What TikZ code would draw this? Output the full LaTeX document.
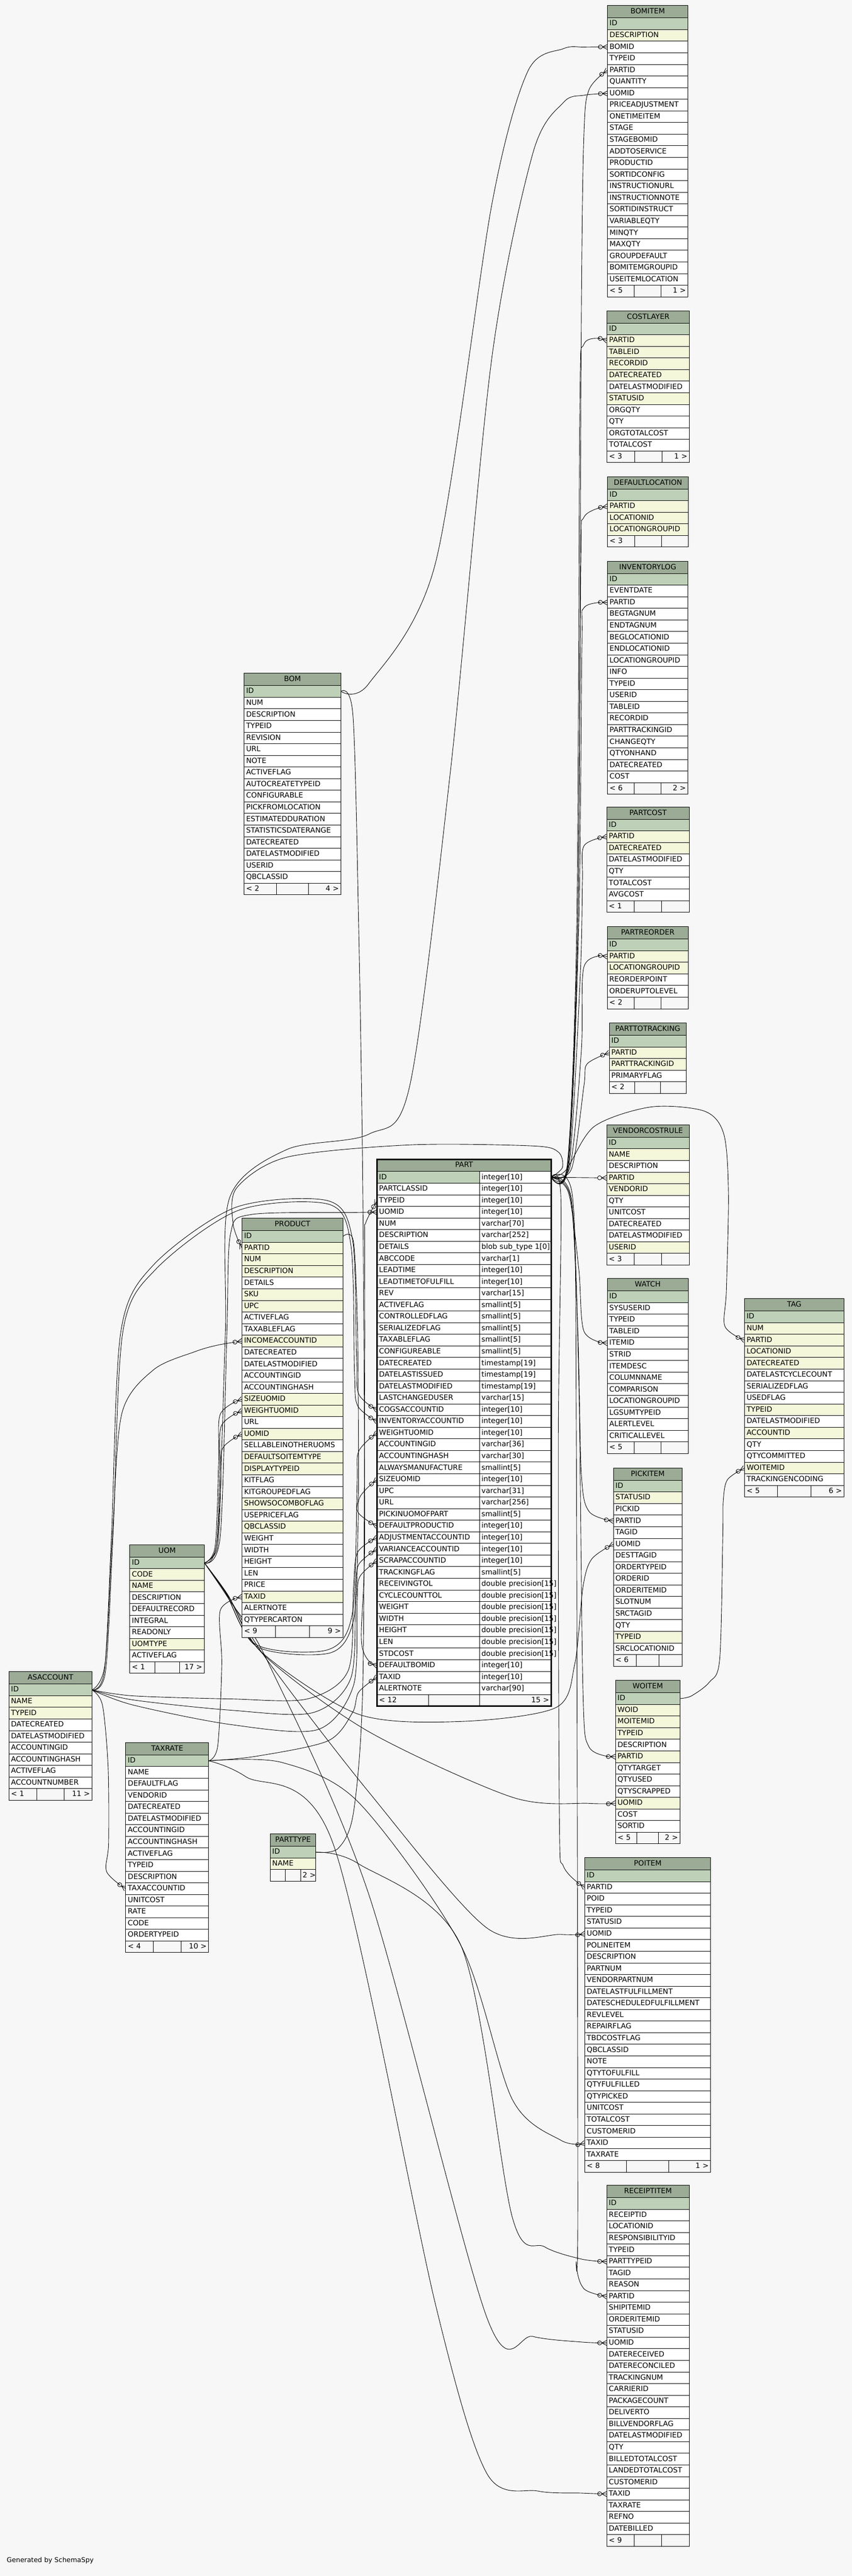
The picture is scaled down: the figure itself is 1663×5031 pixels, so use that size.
\documentclass[tikz,border=0pt]{standalone}
\usepackage{fontspec}
\setmainfont{DejaVu Sans}
\usetikzlibrary{arrows.meta}

\definecolor{bg}{HTML}{F7F7F7}
\definecolor{cT}{HTML}{9BAB96}
\definecolor{cK}{HTML}{BED1B8}
\definecolor{cX}{HTML}{F4F7DA}
\definecolor{cW}{HTML}{FFFFFF}

\pgfdeclarelayer{bgl}
\pgfdeclarelayer{edges}
\pgfsetlayers{bgl,edges,main}

\pgfdeclarearrow{
  name = crowodot,
  setup code = {
    \pgfarrowssettipend{0pt}
    \pgfarrowssetlineend{-18pt}
    \pgfarrowssetbackend{-18pt}
    \pgfarrowshullpoint{0pt}{5pt}
    \pgfarrowshullpoint{0pt}{-5pt}
    \pgfarrowshullpoint{-18pt}{4pt}
    \pgfarrowshullpoint{-18pt}{-4pt}
  },
  drawing code = {
    \pgfsetdash{}{0pt}
    \pgfpathmoveto{\pgfqpoint{0pt}{5pt}}
    \pgfpathlineto{\pgfqpoint{-10pt}{0pt}}
    \pgfpathlineto{\pgfqpoint{0pt}{-5pt}}
    \pgfpathmoveto{\pgfqpoint{0pt}{0pt}}
    \pgfpathlineto{\pgfqpoint{-10pt}{0pt}}
    \pgfpathcircle{\pgfqpoint{-14pt}{0pt}}{4pt}
    \pgfusepathqstroke
  }
}

\newcommand\erfont{\fontsize{14.2}{17}\selectfont}

\tikzset{
  cell/.style={draw=black, line width=1pt, inner xsep=4pt, inner ysep=0pt, outer sep=0pt,
    minimum height=22.7pt, text height=10.4pt, text depth=2.6pt, align=left, font=\erfont},
  ttl/.style={draw=black, fill=cT, line width=1pt, inner sep=0pt, outer sep=0pt,
    minimum height=24pt, text height=10.4pt, text depth=2.6pt, font=\erfont},
  fk/.style={draw=black, line width=0.9pt, -crowodot},
}

% #1 name, #2 left, #3 top, #4 width, #5 rows, #6 footer left, #7 footer right
\newcommand\ertable[7]{%
  \pgfmathsetlengthmacro\erW{#4}%
  \pgfmathsetlengthmacro\erTW{#4-8}%
  \pgfmathsetlengthmacro\erFW{#4/3}%
  \pgfmathsetlengthmacro\erFTW{#4/3-8}%
  \node[ttl, minimum width=\erW] (#1) at ({#2+#4/2},{#3+12}) {#1};
  \foreach \lab/\col [count=\i from 0] in {#5} {%
    \node[cell, fill=\col, minimum width=\erW, text width=\erTW] (#1-\lab) at ({#2+#4/2},{#3+35.35+22.7*\i}) {\mbox{\lab}};
    \xdef\erN{\i}%
  }%
  \pgfmathsetmacro\erFY{#3+35.35+22.7*(\erN+1)}%
  \node[cell, fill=bg, minimum width=\erFW, text width=\erFTW] (#1-fl) at ({#2+#4/6},\erFY) {\mbox{#6}};
  \node[cell, fill=bg, minimum width=\erFW, text width=\erFTW] (#1-fm) at ({#2+#4/2},\erFY) {};
  \node[cell, fill=bg, minimum width=\erFW, text width=\erFTW, align=right] (#1-fr) at ({#2+5*#4/6},\erFY) {\mbox{#7}};
}

\newcommand\fkline[3]{\draw[fk] plot[smooth] coordinates {(#1) #2 (#3)};}

\begin{document}
\begin{tikzpicture}[x=1pt,y=-1pt]
\begin{pgfonlayer}{bgl}
\fill[bg] (0,0) rectangle (1663,5031);
\end{pgfonlayer}
\useasboundingbox (0,0) rectangle (1663,5031);

% ---------------- right column ----------------
\ertable{BOMITEM}{1186}{11}{157}{ID/cK,DESCRIPTION/cX,BOMID/cW,TYPEID/cW,PARTID/cW,QUANTITY/cW,UOMID/cW,PRICEADJUSTMENT/cW,ONETIMEITEM/cW,STAGE/cW,STAGEBOMID/cW,ADDTOSERVICE/cW,PRODUCTID/cW,SORTIDCONFIG/cW,INSTRUCTIONURL/cW,INSTRUCTIONNOTE/cW,SORTIDINSTRUCT/cW,VARIABLEQTY/cW,MINQTY/cW,MAXQTY/cW,GROUPDEFAULT/cW,BOMITEMGROUPID/cW,USEITEMLOCATION/cW}{< 5}{1 >}

\ertable{COSTLAYER}{1185}{607}{161}{ID/cK,PARTID/cX,TABLEID/cX,RECORDID/cX,DATECREATED/cX,DATELASTMODIFIED/cW,STATUSID/cX,ORGQTY/cW,QTY/cW,ORGTOTALCOST/cW,TOTALCOST/cW}{< 3}{1 >}

\ertable{DEFAULTLOCATION}{1186}{931}{158}{ID/cK,PARTID/cX,LOCATIONID/cX,LOCATIONGROUPID/cX}{< 3}{}

\ertable{INVENTORYLOG}{1186}{1096}{157}{ID/cK,EVENTDATE/cW,PARTID/cW,BEGTAGNUM/cW,ENDTAGNUM/cW,BEGLOCATIONID/cW,ENDLOCATIONID/cW,LOCATIONGROUPID/cW,INFO/cW,TYPEID/cW,USERID/cW,TABLEID/cW,RECORDID/cW,PARTTRACKINGID/cW,CHANGEQTY/cW,QTYONHAND/cW,DATECREATED/cW,COST/cW}{< 6}{2 >}

\ertable{PARTCOST}{1184.5}{1576}{161}{ID/cK,PARTID/cX,DATECREATED/cX,DATELASTMODIFIED/cW,QTY/cW,TOTALCOST/cW,AVGCOST/cW}{< 1}{}

\ertable{PARTREORDER}{1185.5}{1810}{158}{ID/cK,PARTID/cX,LOCATIONGROUPID/cX,REORDERPOINT/cW,ORDERUPTOLEVEL/cW}{< 2}{}

\ertable{PARTTOTRACKING}{1189.5}{1998}{150}{ID/cK,PARTID/cX,PARTTRACKINGID/cX,PRIMARYFLAG/cW}{< 2}{}

\ertable{VENDORCOSTRULE}{1184.5}{2197}{161}{ID/cK,NAME/cX,DESCRIPTION/cW,PARTID/cX,VENDORID/cX,QTY/cW,UNITCOST/cW,DATECREATED/cW,DATELASTMODIFIED/cW,USERID/cX}{< 3}{}

\ertable{WATCH}{1185.5}{2497}{158}{ID/cK,SYSUSERID/cW,TYPEID/cW,TABLEID/cW,ITEMID/cW,STRID/cW,ITEMDESC/cW,COLUMNNAME/cW,COMPARISON/cW,LOCATIONGROUPID/cW,LGSUMTYPEID/cW,ALERTLEVEL/cW,CRITICALLEVEL/cW}{< 5}{}

\ertable{TAG}{1453.5}{2536.5}{194}{ID/cK,NUM/cX,PARTID/cX,LOCATIONID/cX,DATECREATED/cX,DATELASTCYCLECOUNT/cW,SERIALIZEDFLAG/cW,USEDFLAG/cW,TYPEID/cX,DATELASTMODIFIED/cW,ACCOUNTID/cX,QTY/cW,QTYCOMMITTED/cW,WOITEMID/cX,TRACKINGENCODING/cW}{< 5}{6 >}

\ertable{PICKITEM}{1197.5}{2867}{134}{ID/cK,STATUSID/cX,PICKID/cW,PARTID/cW,TAGID/cW,UOMID/cW,DESTTAGID/cW,ORDERTYPEID/cW,ORDERID/cW,ORDERITEMID/cW,SLOTNUM/cW,SRCTAGID/cW,QTY/cW,TYPEID/cX,SRCLOCATIONID/cW}{< 6}{}

\ertable{WOITEM}{1201.5}{3282}{126}{ID/cK,WOID/cX,MOITEMID/cX,TYPEID/cX,DESCRIPTION/cW,PARTID/cX,QTYTARGET/cW,QTYUSED/cW,QTYSCRAPPED/cW,UOMID/cX,COST/cW,SORTID/cW}{< 5}{2 >}

\ertable{POITEM}{1141.5}{3628}{246}{ID/cK,PARTID/cW,POID/cW,TYPEID/cW,STATUSID/cW,UOMID/cW,POLINEITEM/cW,DESCRIPTION/cW,PARTNUM/cW,VENDORPARTNUM/cW,DATELASTFULFILLMENT/cW,DATESCHEDULEDFULFILLMENT/cW,REVLEVEL/cW,REPAIRFLAG/cW,TBDCOSTFLAG/cW,QBCLASSID/cW,NOTE/cW,QTYTOFULFILL/cW,QTYFULFILLED/cW,QTYPICKED/cW,UNITCOST/cW,TOTALCOST/cW,CUSTOMERID/cW,TAXID/cW,TAXRATE/cW}{< 8}{1 >}

\ertable{RECEIPTITEM}{1184.5}{4268}{161}{ID/cK,RECEIPTID/cW,LOCATIONID/cW,RESPONSIBILITYID/cW,TYPEID/cW,PARTTYPEID/cW,TAGID/cW,REASON/cW,PARTID/cW,SHIPITEMID/cW,ORDERITEMID/cW,STATUSID/cW,UOMID/cW,DATERECEIVED/cW,DATERECONCILED/cW,TRACKINGNUM/cW,CARRIERID/cW,PACKAGECOUNT/cW,DELIVERTO/cW,BILLVENDORFLAG/cW,DATELASTMODIFIED/cW,QTY/cW,BILLEDTOTALCOST/cW,LANDEDTOTALCOST/cW,CUSTOMERID/cW,TAXID/cW,TAXRATE/cW,REFNO/cW,DATEBILLED/cW}{< 9}{}

% ---------------- left / centre ----------------
\ertable{BOM}{476.5}{1315}{189}{ID/cK,NUM/cW,DESCRIPTION/cW,TYPEID/cW,REVISION/cW,URL/cW,NOTE/cW,ACTIVEFLAG/cW,AUTOCREATETYPEID/cW,CONFIGURABLE/cW,PICKFROMLOCATION/cW,ESTIMATEDDURATION/cW,STATISTICSDATERANGE/cW,DATECREATED/cW,DATELASTMODIFIED/cW,USERID/cW,QBCLASSID/cW}{< 2}{4 >}

\ertable{PRODUCT}{472.5}{2379.5}{197}{ID/cK,PARTID/cX,NUM/cX,DESCRIPTION/cX,DETAILS/cW,SKU/cX,UPC/cX,ACTIVEFLAG/cW,TAXABLEFLAG/cW,INCOMEACCOUNTID/cX,DATECREATED/cW,DATELASTMODIFIED/cW,ACCOUNTINGID/cW,ACCOUNTINGHASH/cW,SIZEUOMID/cX,WEIGHTUOMID/cX,URL/cW,UOMID/cX,SELLABLEINOTHERUOMS/cW,DEFAULTSOITEMTYPE/cX,DISPLAYTYPEID/cX,KITFLAG/cW,KITGROUPEDFLAG/cW,SHOWSOCOMBOFLAG/cX,USEPRICEFLAG/cW,QBCLASSID/cX,WEIGHT/cW,WIDTH/cW,HEIGHT/cW,LEN/cW,PRICE/cW,TAXID/cX,ALERTNOTE/cW,QTYPERCARTON/cW}{< 9}{9 >}

\ertable{UOM}{253.5}{3017}{145.5}{ID/cK,CODE/cX,NAME/cX,DESCRIPTION/cW,DEFAULTRECORD/cW,INTEGRAL/cW,READONLY/cW,UOMTYPE/cX,ACTIVEFLAG/cW}{< 1}{17 >}

\ertable{ASACCOUNT}{17.5}{3265}{162}{ID/cK,NAME/cX,TYPEID/cX,DATECREATED/cW,DATELASTMODIFIED/cW,ACCOUNTINGID/cW,ACCOUNTINGHASH/cW,ACTIVEFLAG/cW,ACCOUNTNUMBER/cW}{< 1}{11 >}

\ertable{TAXRATE}{245.5}{3403.5}{162}{ID/cK,NAME/cW,DEFAULTFLAG/cW,VENDORID/cW,DATECREATED/cW,DATELASTMODIFIED/cW,ACCOUNTINGID/cW,ACCOUNTINGHASH/cW,ACTIVEFLAG/cW,TYPEID/cW,DESCRIPTION/cW,TAXACCOUNTID/cW,UNITCOST/cW,RATE/cW,CODE/cW,ORDERTYPEID/cW}{< 4}{10 >}

\ertable{PARTTYPE}{527.5}{3582}{89}{ID/cK,NAME/cX}{}{2 >}

% ---------------- PART ----------------
\node[ttl, minimum width=340pt] (PART) at (906,2276) {PART};
\foreach \lab/\typ/\col [count=\i from 0] in {ID/integer[10]/cK,PARTCLASSID/integer[10]/cW,TYPEID/integer[10]/cW,UOMID/integer[10]/cW,NUM/varchar[70]/cW,DESCRIPTION/varchar[252]/cW,DETAILS/blob sub\_type 1[0]/cW,ABCCODE/varchar[1]/cW,LEADTIME/integer[10]/cW,LEADTIMETOFULFILL/integer[10]/cW,REV/varchar[15]/cW,ACTIVEFLAG/smallint[5]/cW,CONTROLLEDFLAG/smallint[5]/cW,SERIALIZEDFLAG/smallint[5]/cW,TAXABLEFLAG/smallint[5]/cW,CONFIGUREABLE/smallint[5]/cW,DATECREATED/timestamp[19]/cW,DATELASTISSUED/timestamp[19]/cW,DATELASTMODIFIED/timestamp[19]/cW,LASTCHANGEDUSER/varchar[15]/cW,COGSACCOUNTID/integer[10]/cW,INVENTORYACCOUNTID/integer[10]/cW,WEIGHTUOMID/integer[10]/cW,ACCOUNTINGID/varchar[36]/cW,ACCOUNTINGHASH/varchar[30]/cW,ALWAYSMANUFACTURE/smallint[5]/cW,SIZEUOMID/integer[10]/cW,UPC/varchar[31]/cW,URL/varchar[256]/cW,PICKINUOMOFPART/smallint[5]/cW,DEFAULTPRODUCTID/integer[10]/cW,ADJUSTMENTACCOUNTID/integer[10]/cW,VARIANCEACCOUNTID/integer[10]/cW,SCRAPACCOUNTID/integer[10]/cW,TRACKINGFLAG/smallint[5]/cW,RECEIVINGTOL/double precision[15]/cW,CYCLECOUNTTOL/double precision[15]/cW,WEIGHT/double precision[15]/cW,WIDTH/double precision[15]/cW,HEIGHT/double precision[15]/cW,LEN/double precision[15]/cW,STDCOST/double precision[15]/cW,DEFAULTBOMID/integer[10]/cW,TAXID/integer[10]/cW,ALERTNOTE/varchar[90]/cW} {
  \node[cell, fill=\col, minimum width=200pt, text width=192pt] (PART-\lab) at (836,{2299.35+22.7*\i}) {\mbox{\lab}};
  \node[cell, fill=cW, minimum width=140pt, text width=132pt] (PART-\lab-t) at (1006,{2299.35+22.7*\i}) {\mbox{\typ}};
}
\node[cell, fill=bg, minimum width=101pt, text width=93pt] (PART-fl) at (786.5,3320.85) {\mbox{< 12}};
\node[cell, fill=bg, minimum width=99pt, text width=91pt] (PART-fm) at (886.5,3320.85) {};
\node[cell, fill=bg, minimum width=140pt, text width=132pt, align=right] (PART-fr) at (1006,3320.85) {\mbox{15 >}};
\draw[line width=3pt] (736,2264) rectangle (1076,3332.2);

% ---------------- connectors ----------------
\begin{pgfonlayer}{edges}
% PART.ID -> children
\fkline{PART-ID-t.east}{(1108,2270) (1128,1800) (1135,600) (1140,260) (1150,175)}{BOMITEM-PARTID.west}
\fkline{PART-ID-t.east}{(1108,2271) (1126,1800) (1132,800) (1140,672)}{COSTLAYER-PARTID.west}
\fkline{PART-ID-t.east}{(1109,2272) (1128,1800) (1134,1100) (1140,1010)}{DEFAULTLOCATION-PARTID.west}
\fkline{PART-ID-t.east}{(1110,2273) (1130,1800) (1136,1260) (1140,1187)}{INVENTORYLOG-PARTID.west}
\fkline{PART-ID-t.east}{(1111,2275) (1133,1900) (1137,1720) (1140,1652)}{PARTCOST-PARTID.west}
\fkline{PART-ID-t.east}{(1113,2278) (1135,2050) (1140,1888)}{PARTREORDER-PARTID.west}
\fkline{PART-ID-t.east}{(1116,2282) (1140,2120) (1146,2078)}{PARTTOTRACKING-PARTID.west}
\draw[fk] (PART-ID-t.east) -- (VENDORCOSTRULE-PARTID.west);
\fkline{PART-ID-t.east}{(1110,2330) (1130,2480) (1140,2600)}{WATCH-ITEMID.west}
\fkline{PART-ID-t.east}{(1105,2285) (1160,2200) (1270,2162) (1375,2170) (1413,2215) (1422,2330) (1418,2520) (1415,2590)}{TAG-PARTID.west}
\fkline{PART-ID-t.east}{(1114,2340) (1128,2600) (1135,2880) (1150,2952)}{PICKITEM-PARTID.west}
\fkline{PART-ID-t.east}{(1116,2345) (1130,2700) (1138,3300) (1150,3412)}{WOITEM-PARTID.west}
\fkline{PART-ID-t.east}{(1095,2340) (1090,2800) (1092,3550) (1100,3645)}{POITEM-PARTID.west}
\fkline{PART-ID-t.east}{(1118,2340) (1125,2800) (1128,4300) (1125,4420) (1140,4470)}{RECEIPTITEM-PARTID.west}
\fkline{PART-ID-t.east}{(1098,2280) (1090,2250) (1040,2238) (800,2236) (560,2260) (462,2320) (455,2390)}{PRODUCT-PARTID.west}
% UOM.ID
\fkline{UOM-ID.east}{(425,3000) (440,2600) (448,2340) (560,2245) (720,2215) (800,2120) (880,1500) (960,700) (1040,300) (1100,200) (1140,186)}{BOMITEM-UOMID.west}
\fkline{UOM-ID.east}{(430,3000) (443,2600) (450,2410) (490,2372) (690,2368)}{PART-UOMID.west}
\fkline{UOM-ID.east}{(440,3110) (500,3212) (640,3222) (688,3150) (697,2900) (700,2835)}{PART-WEIGHTUOMID.west}
\fkline{UOM-ID.east}{(441,3112) (502,3216) (645,3228) (691,3160) (699,2980) (702,2925)}{PART-SIZEUOMID.west}
\fkline{UOM-ID.east}{(420,3020) (427,2850) (430,2762)}{PRODUCT-SIZEUOMID.west}
\fkline{UOM-ID.east}{(422,3022) (429,2870) (432,2785)}{PRODUCT-WEIGHTUOMID.west}
\fkline{UOM-ID.east}{(424,3024) (431,2900) (434,2830)}{PRODUCT-UOMID.west}
\fkline{UOM-ID.east}{(445,3115) (510,3226) (700,3348) (900,3362) (1085,3335) (1122,3250) (1138,3100) (1155,3045)}{PICKITEM-UOMID.west}
\fkline{UOM-ID.east}{(446,3118) (515,3232) (720,3382) (1000,3510) (1150,3522)}{WOITEM-UOMID.west}
\fkline{UOM-ID.east}{(447,3120) (520,3240) (720,3500) (950,3765) (1095,3778)}{POITEM-UOMID.west}
\fkline{UOM-ID.east}{(448,3125) (525,3250) (720,3700) (950,4525) (1040,4563) (1135,4574)}{RECEIPTITEM-UOMID.west}
% ASACCOUNT.ID
\fkline{ASACCOUNT-ID.east}{(205,3250) (220,2990) (238,2760) (300,2675) (380,2640) (425,2627)}{PRODUCT-INCOMEACCOUNTID.west}
\fkline{ASACCOUNT-ID.east}{(204,3262) (218,2990) (236,2600) (300,2470) (460,2358) (640,2345) (688,2420) (696,2650) (700,2722)}{PART-COGSACCOUNTID.west}
\fkline{ASACCOUNT-ID.east}{(206,3264) (221,2990) (240,2600) (305,2478) (465,2364) (642,2352) (685,2432) (692,2680) (698,2745)}{PART-INVENTORYACCOUNTID.west}
\fkline{ASACCOUNT-ID.east}{(260,3312) (450,3318) (600,3318) (680,3262) (690,3100) (698,3032)}{PART-ADJUSTMENTACCOUNTID.west}
\fkline{ASACCOUNT-ID.east}{(260,3320) (450,3340) (610,3345) (685,3277) (694,3112) (700,3056)}{PART-VARIANCEACCOUNTID.west}
\fkline{ASACCOUNT-ID.east}{(260,3330) (450,3368) (620,3378) (690,3292) (697,3132) (702,3080)}{PART-SCRAPACCOUNTID.west}
\fkline{ASACCOUNT-ID.east}{(200,3330) (211,3450) (212,3600) (208,3655)}{TAXRATE-TAXACCOUNTID.west}
% TAXRATE.ID
\fkline{TAXRATE-ID.east}{(425,3410) (433,3250) (430,3145)}{PRODUCT-TAXID.west}
\fkline{TAXRATE-ID.east}{(500,3430) (640,3400) (688,3345) (700,3305)}{PART-TAXID.west}
\fkline{TAXRATE-ID.east}{(550,3442) (700,3520) (900,3800) (1000,4100) (1095,4180)}{POITEM-TAXID.west}
\fkline{TAXRATE-ID.east}{(480,3470) (650,3600) (850,4500) (950,4830) (1050,4865) (1135,4869)}{RECEIPTITEM-TAXID.west}
% BOM.ID
\fkline{BOM-ID.east}{(720,1335) (850,1100) (960,400) (1030,140) (1100,95) (1140,92)}{BOMITEM-BOMID.west}
\fkline{BOM-ID.east}{(689,1397) (700,1800) (708,2300) (712,3000) (706,3210)}{PART-DEFAULTBOMID.west}
% PRODUCT.ID
\fkline{PRODUCT-ID.east}{(690,2425) (698,2600) (700,2900) (698,2952)}{PART-DEFAULTPRODUCTID.west}
% PARTTYPE.ID
\fkline{PARTTYPE-ID.east}{(660,3610) (690,3540) (708,3300) (712,2700) (712,2420) (714,2388)}{PART-TYPEID.west}
\fkline{PARTTYPE-ID.east}{(700,3640) (900,3800) (1000,4330) (1063,4388) (1135,4412)}{RECEIPTITEM-PARTTYPEID.west}
% WOITEM.ID
\fkline{WOITEM-ID.east}{(1350,3312) (1385,3285) (1405,3240) (1411,3000) (1412,2930) (1420,2890)}{TAG-WOITEMID.west}
\end{pgfonlayer}

\node[anchor=base west, inner sep=0pt, font=\fontsize{13}{15}\selectfont] (credit) at (13,5004) {Generated by SchemaSpy};
\end{tikzpicture}
\end{document}
